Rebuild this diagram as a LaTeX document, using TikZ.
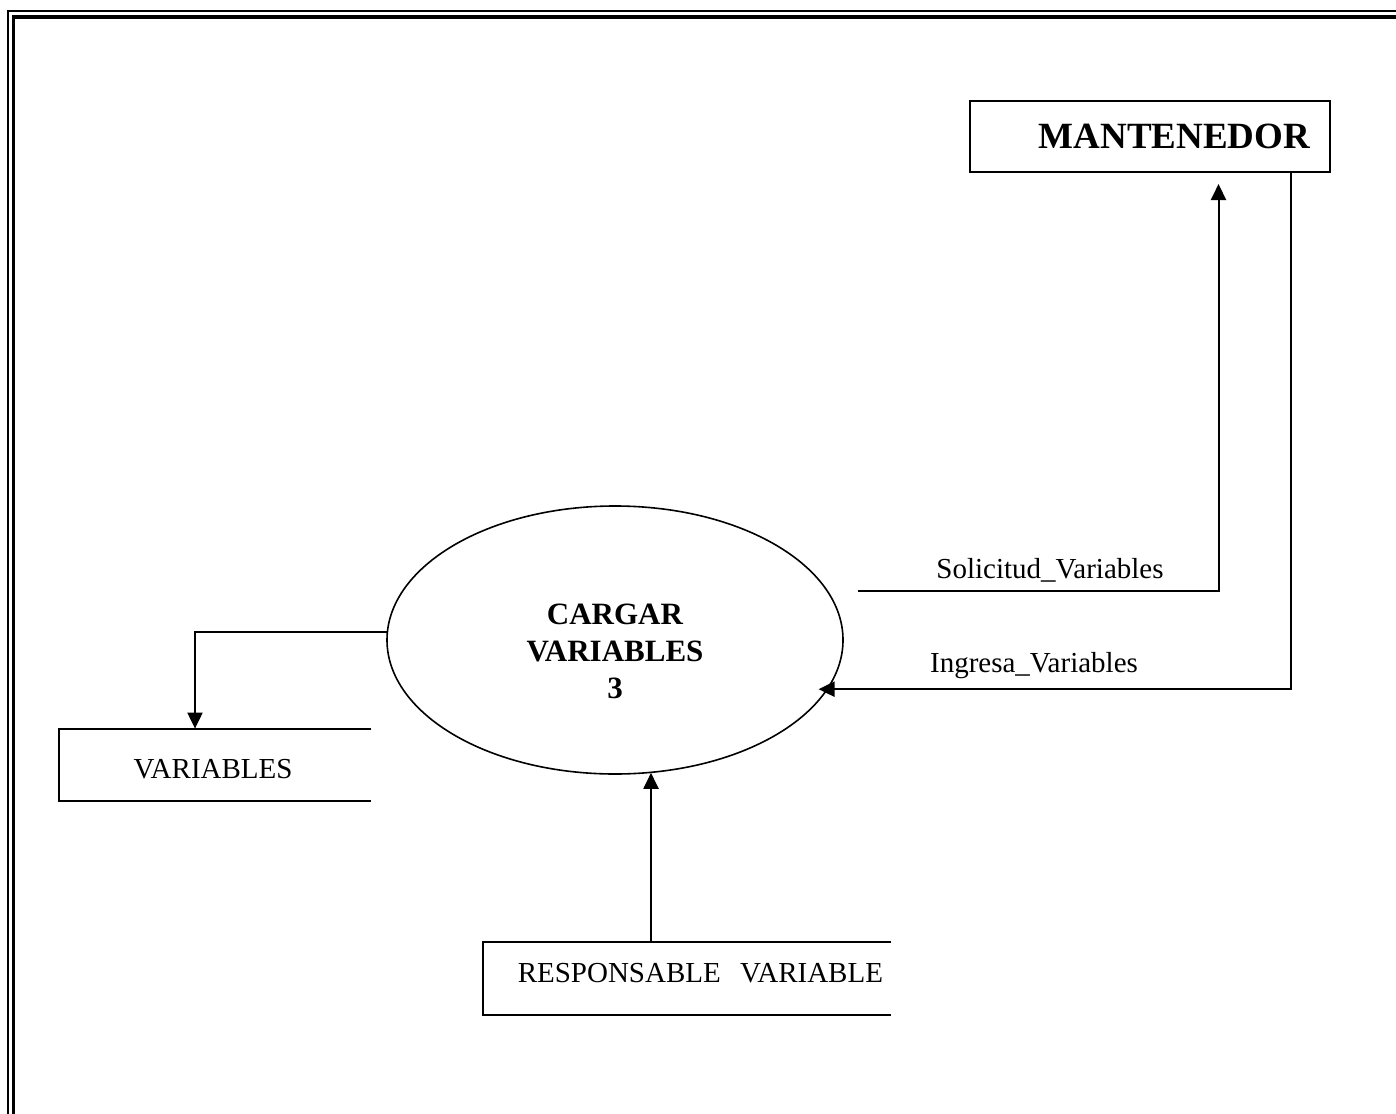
\documentclass[tikz,border=0pt]{standalone}
\usepackage{fontspec}
\setmainfont{Liberation Serif}
\usetikzlibrary{arrows.meta,shapes.geometric}
\begin{document}
\begin{tikzpicture}[x=0.5pt,y=-0.5pt,
  flow/.style={line width=1pt,-{Triangle[length=8pt,width=7.5pt]}},
  extbox/.style={draw,line width=1pt,rectangle,inner ysep=0pt},
  storeline/.style={line width=1pt},
  regular/.style={font=\fontsize{14.5}{17}\selectfont},
  procfont/.style={font=\bfseries\fontsize{15.5}{18.5}\selectfont},
  extfont/.style={font=\bfseries\fontsize{18.5}{22}\selectfont}]
\useasboundingbox (0,0) rectangle (1396,1113);
\clip (0,0) rectangle (1396,1113);

% double page frame
\draw[line width=1pt] (7.8,1200) -- (7.8,11) -- (1500,11);
\draw[line width=1.6pt] (13.4,1200) -- (13.4,17) -- (1500,17);

% external entity
\node[extbox,extfont,minimum width=180pt,minimum height=35.5pt,inner xsep=10pt,text width=160pt,align=right] (mant) at (1150,136.5) {MANTENEDOR};

% process
\node[draw,ellipse,line width=0.8pt,minimum width=228pt,minimum height=134pt,inner sep=0pt] (proc) at (615,640) {};
\node[procfont,align=center] (proctext) at (615,651) {CARGAR\\VARIABLES\\3};

% data stores (open on the right)
\node[regular,minimum width=156pt,minimum height=36pt,inner sep=0pt,text height=13.6pt] (vars) at (213,765) {VARIABLES};
\draw[storeline] ([xshift=1pt]vars.north east) -- ([xshift=1pt]vars.north west) -- ([xshift=1pt]vars.south west) -- ([xshift=1pt]vars.south east);

\node[regular,minimum width=204pt,minimum height=36.5pt,inner xsep=4pt,inner ysep=0pt,text width=196pt,align=right,text depth=6pt] (resp) at (687,978.5) {RESPONSABLE\ \ VARIABLE};
\draw[storeline] (resp.north east) -- (resp.north west) -- (resp.south west) -- (resp.south east);

% flows
\draw[flow] (proc.178) -| ([xshift=-9pt]vars.north);

\coordinate (solstart) at (858,591);
\draw[flow,shorten >=5.5pt] (solstart) -| ([xshift=34.25pt]mant.south);
\node[regular,anchor=base] (sollabel) at (1050,578) {Solicitud\_Variables};

\draw[flow,shorten >=-4.75pt] ([xshift=70.5pt]mant.south) |- (proc.347.6);
\node[regular,anchor=base] (inglabel) at (1034,672) {Ingresa\_Variables};

\draw[flow,shorten >=-1pt] ([xshift=-18pt]resp.north) -- ([xshift=-18pt]resp.north |- proc.south);
\end{tikzpicture}
\end{document}
